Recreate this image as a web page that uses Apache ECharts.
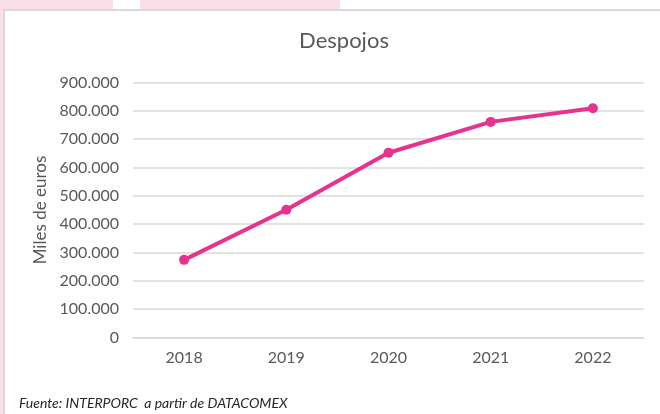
<!DOCTYPE html>
<html>
<head>
	<meta charset="utf-8">
	<title>Despojos</title>
	<script src="https://cdn.jsdelivr.net/npm/echarts@6/dist/echarts.min.js"></script>
	<style>
body{
	margin: 0;
	width: 660px;
	height: 414px;
	overflow: hidden;
	background: #FFFFFF;
	position: relative;
}
.pink{
	position: absolute;
	background: #FADFEB;
}
#frame{
	position: absolute;
	left: 3px;
	top: 9px;
	right: 0;
	bottom: 0;
	border-left: 2px solid #D9D9D9;
	border-top: 2px solid #D9D9D9;
	background: #FFFFFF;
}
#main{
	position: absolute;
	left: 0;
	top: 0;
	width: 660px;
	height: 414px;
}
	</style>
</head>
<body>
<div class="pink" style="left:0;top:0;width:113px;height:9px;"></div>
<div class="pink" style="left:140px;top:0;width:200px;height:9px;"></div>
<div class="pink" style="left:0;top:0;width:3px;height:414px;"></div>
<div id="frame"></div>
<div id="main"></div>

<script>
// datos (miles de euros)
var years = ['2018', '2019', '2020', '2021', '2022'];
var despojos = [274000, 451000, 652000, 761000, 809000];
var yMax = 900000;
var yStep = 100000;

var grey = '#595959';
var pinkLine = '#E6338F';

function miles(v) { // 900000 -> 900.000
	return String(v).replace(/\B(?=(\d{3})+(?!\d))/g, '.');
}

var myChart = echarts.init(document.getElementById('main'));
var option = {
	animation: false,
	textStyle: { fontFamily: 'Lato' },
	title: {
		text: 'Despojos',
		left: 339,
		top: 25,
		textAlign: 'center',
		textStyle: { fontFamily: 'Lato', fontSize: 22, fontWeight: 'normal', color: grey }
	},
	grid: { left: 133, right: 16, top: 82.5, bottom: 76.5 },
	xAxis: {
		type: 'category',
		data: years,
		boundaryGap: true,
		axisLine: { show: true, lineStyle: { color: '#D9D9D9', width: 1.5 } },
		axisTick: { show: false },
		axisLabel: { color: grey, fontSize: 16, margin: 12 }
	},
	yAxis: {
		type: 'value',
		min: 0,
		max: yMax,
		interval: yStep,
		name: 'Miles de euros',
		nameLocation: 'middle',
		nameGap: 76,
		nameTextStyle: { color: grey, fontSize: 17 },
		axisLine: { show: false },
		axisTick: { show: false },
		axisLabel: { color: grey, fontSize: 16, margin: 14, formatter: miles },
		splitLine: { lineStyle: { color: '#D9D9D9', width: 1.5 } }
	},
	graphic: [{
		type: 'text',
		left: 19,
		top: 396,
		style: {
			text: 'Fuente: INTERPORC  a partir de DATACOMEX',
			font: 'italic 14px Lato',
			fill: '#262626'
		}
	}],
	series: [{
		name: 'Despojos',
		type: 'line',
		data: despojos,
		symbol: 'circle',
		symbolSize: 10,
		lineStyle: { color: pinkLine, width: 4 },
		itemStyle: { color: pinkLine }
	}]
};
myChart.setOption(option);
</script>
</body>
</html>
